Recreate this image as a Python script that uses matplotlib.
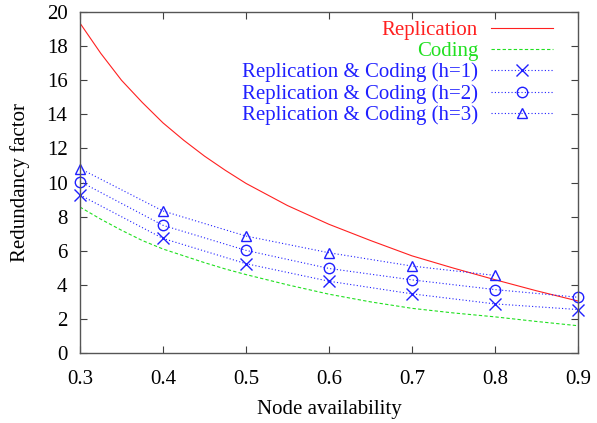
#!/usr/bin/env python3

import matplotlib
matplotlib.use("Agg")
import matplotlib.pyplot as plt

# node availability samples for the smooth curves
avail = [0.300, 0.325, 0.350, 0.375, 0.400, 0.425, 0.450, 0.475, 0.500,
         0.550, 0.600, 0.650, 0.700, 0.750, 0.800, 0.850, 0.900]
replication = [19.35, 17.58, 16.0, 14.7, 13.5, 12.48, 11.55, 10.72, 9.95,
               8.65, 7.55, 6.6, 5.7, 4.98, 4.3, 3.65, 3.05]
coding = [8.56, 7.85, 7.2, 6.6, 6.1, 5.7, 5.3, 4.93, 4.6,
          4.0, 3.45, 3.0, 2.62, 2.35, 2.12, 1.85, 1.6]

# hybrid schemes, measured at 0.1 steps
hyb_avail = [0.3, 0.4, 0.5, 0.6, 0.7, 0.8, 0.9]
hyb_h1 = [9.27, 6.72, 5.24, 4.21, 3.47, 2.88, 2.55]
hyb_h2 = [10.06, 7.49, 6.02, 4.96, 4.29, 3.72, 3.27]
hyb_h3_avail = [0.3, 0.4, 0.5, 0.6, 0.7, 0.8]
hyb_h3 = [10.82, 8.33, 6.86, 5.88, 5.1, 4.55]

x_ticks = [0.3, 0.4, 0.5, 0.6, 0.7, 0.8, 0.9]
y_ticks = [0, 2, 4, 6, 8, 10, 12, 14, 16, 18, 20]


def main():
    plt.rcParams["font.family"] = ["Liberation Serif", "DejaVu Serif"]
    plt.rcParams["font.size"] = 15

    fig = plt.figure(figsize=(5.97, 4.23), dpi=100)
    ax = fig.add_axes([0.134, 0.1655, 0.834, 0.806])

    ax.plot(avail, replication, color="#ff2020", lw=0.8, label="Replication")
    ax.plot(avail, coding, color="#20e020", lw=0.8, ls=(0, (3, 2)), label="Coding")
    blue = "#2020ff"
    dots = (0, (1, 2))
    ax.plot(hyb_avail, hyb_h1, color=blue, lw=0.8, ls=dots, marker="x",
            ms=8.5, mew=1.0, clip_on=False, label="Replication & Coding (h=1)")
    ax.plot(hyb_avail, hyb_h2, color=blue, lw=0.8, ls=dots, marker="o",
            ms=7.5, mew=1.0, mfc="none", clip_on=False, label="Replication & Coding (h=2)")
    ax.plot(hyb_h3_avail, hyb_h3, color=blue, lw=0.8, ls=dots, marker="^",
            ms=7, mew=1.0, mfc="none", clip_on=False, label="Replication & Coding (h=3)")

    ax.set_xlim(0.3, 0.9)
    ax.set_ylim(0, 20)
    ax.set_xticks(x_ticks)
    ax.set_xticklabels([f"{t:.1f}" for t in x_ticks])
    ax.set_yticks(y_ticks)
    ax.tick_params(direction="in", top=True, right=True, length=5, width=0.8,
                   color="#404040", labelsize=15)
    ax.tick_params(axis="x", pad=12)
    ax.tick_params(axis="y", pad=9)
    for s in ax.spines.values():
        s.set_color("#555555")
        s.set_linewidth(1.0)

    ax.set_xlabel("Node availability", fontsize=15, labelpad=8)
    ax.set_ylabel("Redundancy factor", fontsize=15, labelpad=12)

    ax.legend(loc="upper right", bbox_to_anchor=(0.95, 0.976), frameon=False,
              markerfirst=False, labelcolor="linecolor", fontsize=15,
              handlelength=3.0, handletextpad=0.6, labelspacing=0.08,
              borderpad=0, borderaxespad=0)

    fig.savefig("out.png", dpi=100)


if __name__ == "__main__":
    main()
